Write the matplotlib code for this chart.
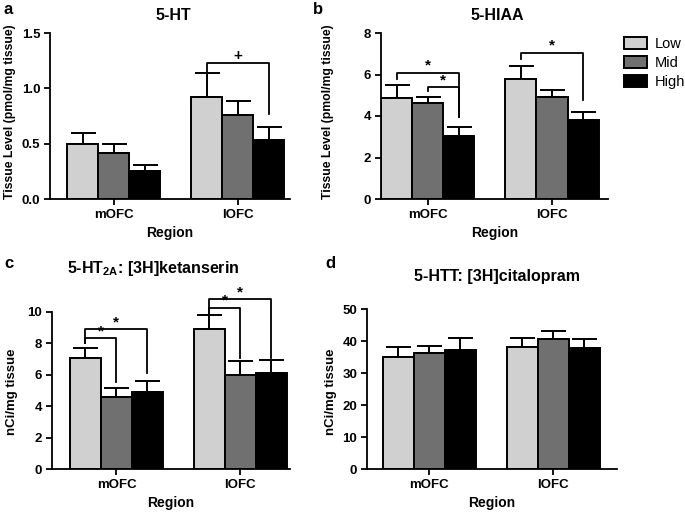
import matplotlib
matplotlib.use('Agg')
import matplotlib.pyplot as plt
from matplotlib.patches import Patch

plt.rcParams['font.family'] = ['Liberation Sans', 'DejaVu Sans']
plt.rcParams['font.weight'] = 'bold'
plt.rcParams['mathtext.fontset'] = 'custom'
plt.rcParams['mathtext.bf'] = 'Liberation Sans:bold'
plt.rcParams['mathtext.rm'] = 'Liberation Sans:bold'

regions = ['mOFC', 'lOFC']
groups = ['Low', 'Mid', 'High']
colors = ['#d0d0d0', '#707070', '#000000']

# 5-HT tissue level (pmol/mg tissue)
ht_mean = {'Low': [0.50, 0.92], 'Mid': [0.42, 0.76], 'High': [0.25, 0.53]}
ht_err = {'Low': [0.10, 0.22], 'Mid': [0.08, 0.13], 'High': [0.06, 0.12]}

# 5-HIAA tissue level (pmol/mg tissue)
hiaa_mean = {'Low': [4.85, 5.78], 'Mid': [4.61, 4.93], 'High': [3.05, 3.81]}
hiaa_err = {'Low': [0.64, 0.63], 'Mid': [0.29, 0.32], 'High': [0.44, 0.40]}

# 5-HT2A [3H]ketanserin (nCi/mg tissue)
ket_mean = {'Low': [7.05, 8.92], 'Mid': [4.57, 6.00], 'High': [4.88, 6.10]}
ket_err = {'Low': [0.68, 0.92], 'Mid': [0.57, 0.85], 'High': [0.72, 0.85]}

# 5-HTT [3H]citalopram (nCi/mg tissue)
cit_mean = {'Low': [35.1, 38.0], 'Mid': [36.1, 40.6], 'High': [37.2, 37.7]}
cit_err = {'Low': [2.9, 2.8], 'Mid': [2.3, 2.6], 'High': [3.8, 2.8]}

# significance brackets: (region idx, from group, to group, bar y, left leg end, right leg end, mark)
ht_sig = [(1, 0, 2, 1.23, 1.15, 0.77, '+')]
hiaa_sig = [(0, 0, 2, 6.09, 5.78, 3.97, '*'), (0, 1, 2, 5.38, 5.22, 3.97, '*'),
            (1, 0, 2, 7.05, 6.73, 4.77, '*')]
ket_sig = [(0, 0, 2, 8.90, 8.05, 6.10, '*'), (0, 0, 1, 8.32, 8.05, 5.56, '*'),
           (1, 0, 2, 10.83, 9.95, 7.10, '*'), (1, 0, 1, 10.27, 9.95, 7.10, '*')]

W, H = 685, 512
fig = plt.figure(figsize=(W / 100, H / 100), dpi=100)


def px_axes(left, right, top, bottom):
    return fig.add_axes([left / W, (H - bottom) / H, (right - left) / W, (bottom - top) / H])


def fig_text(x, y, s, **kw):
    return fig.text(x / W, 1 - y / H, s, ha='center', va='center', **kw)


centers = [0, 4]
offsets = [-1, 0, 1]


def panel(ax, means, errs, ylim, yticks, fmt, xlim, sig):
    for g, c, off in zip(groups, colors, offsets):
        xs = [cx + off for cx in centers]
        ax.bar(xs, means[g], width=1.0, color=c, edgecolor='black', linewidth=1.4, zorder=2)
        ax.errorbar(xs, means[g], yerr=[[0, 0], errs[g]], fmt='none', ecolor='black',
                    elinewidth=1.4, capsize=9, capthick=1.4, zorder=1)
    ax.set_xlim(*xlim)
    ax.set_ylim(*ylim)
    ax.set_yticks(yticks)
    ax.set_yticklabels([fmt.format(t) for t in yticks])
    ax.set_xticks(centers)
    ax.set_xticklabels(regions)
    for s in ['top', 'right']:
        ax.spines[s].set_visible(False)
    for s in ['left', 'bottom']:
        ax.spines[s].set_linewidth(1.3)
    ax.tick_params(axis='both', direction='out', length=4, width=1.3, labelsize=9.5, pad=3)
    ax.set_xlabel('Region', fontsize=10, fontweight='bold', labelpad=4)
    for r, g1, g2, yb, y1, y2, m in sig:
        x1 = centers[r] + offsets[g1]
        x2 = centers[r] + offsets[g2]
        ax.plot([x1, x1, x2, x2], [y1, yb, yb, y2], color='black', lw=1.3,
                clip_on=False, zorder=3)
        ax.text((x1 + x2) / 2, yb, m, ha='center', va='bottom', fontsize=11,
                fontweight='bold', clip_on=False)


ax_a = px_axes(50, 290, 33, 199)
panel(ax_a, ht_mean, ht_err, (0, 1.5), [0.0, 0.5, 1.0, 1.5], '{:.1f}', (-2.06, 5.68), ht_sig)
ax_b = px_axes(381, 608, 33, 199)
panel(ax_b, hiaa_mean, hiaa_err, (0, 8), [0, 2, 4, 6, 8], '{:.0f}', (-1.5, 5.8), hiaa_sig)
ax_c = px_axes(52, 290, 312, 469)
panel(ax_c, ket_mean, ket_err, (0, 10), [0, 2, 4, 6, 8, 10], '{:.0f}', (-2.08, 5.6), ket_sig)
ax_d = px_axes(367, 617, 309, 469)
panel(ax_d, cit_mean, cit_err, (0, 50), [0, 10, 20, 30, 40, 50], '{:.0f}', (-2.0, 6.06), [])

# y axis labels
for s, x, y, fs in [('Tissue Level (pmol/mg tissue)', 10, 112, 8.8),
                    ('Tissue Level (pmol/mg tissue)', 328, 112, 8.8),
                    ('nCi/mg tissue', 12, 392, 9.5),
                    ('nCi/mg tissue', 331, 392, 9.5)]:
    fig_text(x, y, s, rotation=90, fontsize=fs, fontweight='bold')

titles = [('5-HT', 173, 15), ('5-HIAA', 497, 15),
          (r'5-HT$_{\mathbf{2A}}$: [3H]ketanserin', 153, 268),
          ('5-HTT: [3H]citalopram', 497, 277)]
for t, x, y in titles:
    fig_text(x, y, t, fontsize=11.5, fontweight='bold')

for lab, x, y in [('a', 8, 9), ('b', 318, 9), ('c', 9, 263), ('d', 330, 263)]:
    fig_text(x, y, lab, fontsize=12, fontweight='bold')

handles = [Patch(facecolor=c, edgecolor='black', linewidth=1.4, label=g)
           for g, c in zip(groups, colors)]
leg = fig.legend(handles=handles, loc='upper left', bbox_to_anchor=(624 / W, 1 - 37 / H),
                 frameon=False, prop={'size': 10.5, 'weight': 'normal'},
                 handlelength=1.6, handleheight=0.9, handletextpad=0.5, labelspacing=0.35,
                 borderaxespad=0, borderpad=0)

fig.savefig('out.png', dpi=100)
